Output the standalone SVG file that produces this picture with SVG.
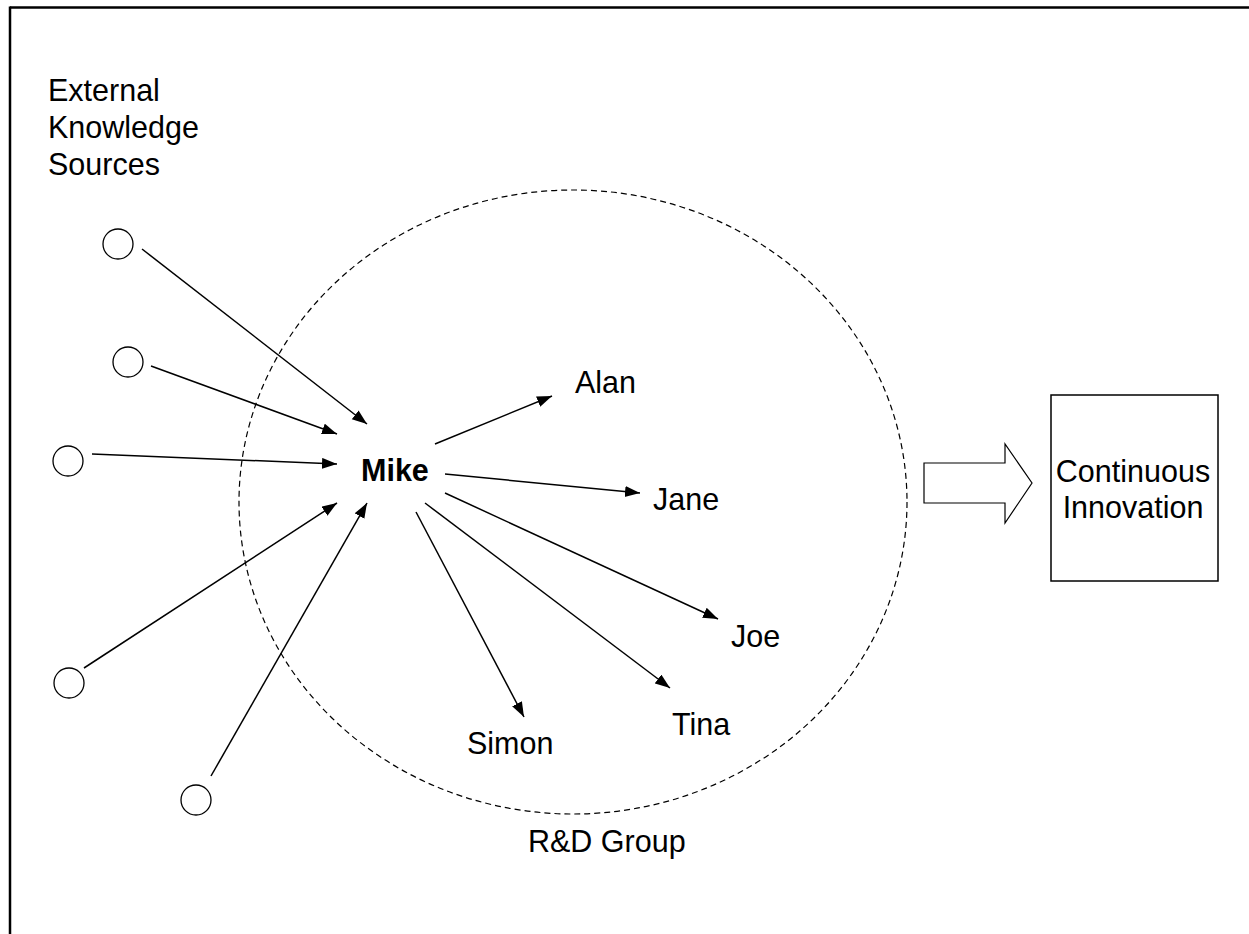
<svg xmlns="http://www.w3.org/2000/svg" width="1249" height="934" viewBox="0 0 1249 934">
<style>
  text { font-family: "Liberation Sans", Arial, sans-serif; font-size: 30.5px; fill: #000; }
  .bold { font-weight: bold; }
  .src { fill: #fff; stroke: #000; stroke-width: 1.3; }
  .conn line { stroke: #000; stroke-width: 1.5; marker-end: url(#ah); }
  .frame { stroke: #000; stroke-width: 2.5; fill: none; }
</style>
<defs>
  <marker id="ah" markerUnits="userSpaceOnUse" markerWidth="16" markerHeight="12" refX="15" refY="5.5" orient="auto">
    <path d="M0,0 L15,5.5 L0,11 z" fill="#000"/>
  </marker>
</defs>
<rect width="1249" height="934" fill="#fff"/>
<g id="frame">
  <line class="frame" x1="10" y1="7.5" x2="1249" y2="7.5"/>
  <line class="frame" x1="10" y1="6.5" x2="10" y2="934"/>
</g>
<g id="rd-group">
  <ellipse cx="573" cy="502" rx="334" ry="312" fill="none" stroke="#000" stroke-width="1.2" stroke-dasharray="6,4"/>
  <text x="528" y="852">R&amp;D Group</text>
</g>
<g id="external-label">
  <text x="48" y="101">External</text>
  <text x="48" y="138">Knowledge</text>
  <text x="48" y="175">Sources</text>
</g>
<g id="src1"><circle class="src" cx="118" cy="244" r="15"/></g>
<g id="src2"><circle class="src" cx="128" cy="362" r="15"/></g>
<g id="src3"><circle class="src" cx="68" cy="461" r="15"/></g>
<g id="src4"><circle class="src" cx="69" cy="683" r="15"/></g>
<g id="src5"><circle class="src" cx="196" cy="800" r="15"/></g>
<g id="mike"><text class="bold" x="361" y="481">Mike</text></g>
<g id="alan"><text x="575" y="393">Alan</text></g>
<g id="jane"><text x="653" y="510">Jane</text></g>
<g id="joe"><text x="731" y="647">Joe</text></g>
<g id="tina"><text x="672" y="735">Tina</text></g>
<g id="simon"><text x="467" y="754">Simon</text></g>
<g id="arrow-block">
  <polygon points="924,463 1005,463 1005,444 1032,483 1005,523 1005,503 924,503" fill="#fff" stroke="#000" stroke-width="1.2"/>
</g>
<g id="innovation">
  <rect x="1051" y="395" width="167" height="186" fill="#fff" stroke="#000" stroke-width="1.5"/>
  <text x="1133" y="482" text-anchor="middle">Continuous</text>
  <text x="1133" y="518" text-anchor="middle">Innovation</text>
</g>
<g id="connectors" class="conn">
  <line x1="142" y1="249" x2="367" y2="424"/>
  <line x1="151" y1="366" x2="337" y2="434"/>
  <line x1="92" y1="454" x2="337" y2="464"/>
  <line x1="84" y1="668" x2="337" y2="503"/>
  <line x1="211" y1="776" x2="367" y2="503"/>
  <line x1="435" y1="444" x2="552" y2="396"/>
  <line x1="445" y1="474" x2="640" y2="493"/>
  <line x1="445" y1="493" x2="718" y2="619"/>
  <line x1="425" y1="503" x2="670" y2="688"/>
  <line x1="416" y1="512" x2="524" y2="717"/>
</g>
</svg>
